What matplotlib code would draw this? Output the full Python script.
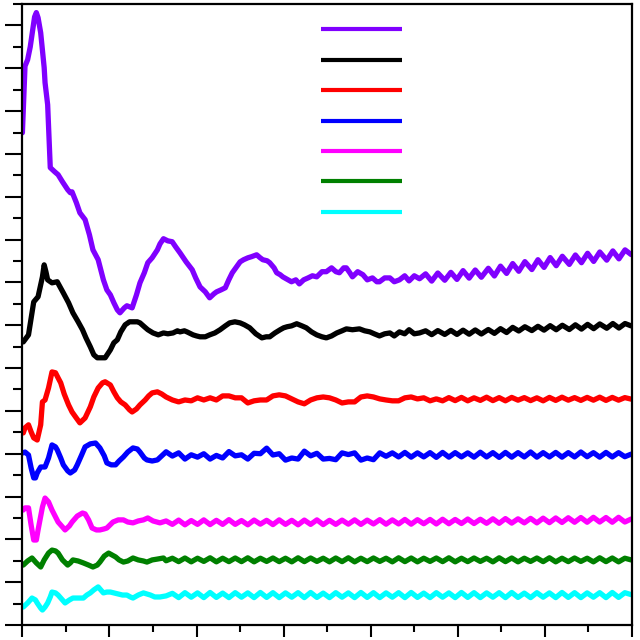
import matplotlib
matplotlib.use("Agg")
import matplotlib.pyplot as plt
from matplotlib.ticker import MultipleLocator, NullFormatter
import numpy as np

# series colours, top curve first
colors = ['#8000ff', '#000000', '#ff0000', '#0000ff', '#ff00ff', '#008000', '#00ffff']

# x positions shared by the wiggly tails
upper_tail_x = [4.63, 4.70, 4.77, 4.85, 4.92, 4.99, 5.06, 5.13, 5.20, 5.27, 5.35, 5.42, 5.49, 5.56, 5.63, 5.70, 5.77,
                5.85, 5.92, 5.99, 6.06, 6.13, 6.20, 6.28, 6.35, 6.42, 6.49, 6.56, 6.63, 6.71, 6.78, 6.85, 6.92, 6.99]
lower_tail_x = np.linspace(1.65, 6.99, 75)

purple_x = [0.00, 0.03, 0.06, 0.09, 0.11, 0.14, 0.16, 0.18, 0.21, 0.23, 0.25, 0.26, 0.29, 0.32, 0.37, 0.41, 0.46, 0.52,
            0.55, 0.57, 0.62, 0.66, 0.72, 0.77, 0.81, 0.87, 0.93, 0.97, 1.01, 1.05, 1.09, 1.12, 1.17, 1.20, 1.26, 1.31,
            1.35, 1.40, 1.44, 1.49, 1.55, 1.58, 1.62, 1.67, 1.72, 1.76, 1.81, 1.88, 1.95, 1.99, 2.04, 2.10, 2.15, 2.20,
            2.23, 2.28, 2.33, 2.37, 2.41, 2.45, 2.50, 2.54, 2.59, 2.63, 2.69, 2.73, 2.76, 2.81, 2.84, 2.89, 2.92, 2.96,
            2.99, 3.05, 3.09, 3.14, 3.18, 3.23, 3.28, 3.33, 3.38, 3.44, 3.49, 3.55, 3.60, 3.64, 3.69, 3.72, 3.76, 3.79,
            3.85, 3.91, 3.96, 4.02, 4.07, 4.10, 4.16, 4.22, 4.27, 4.33, 4.39, 4.44, 4.50, 4.56]
purple_y = [22.99, 26.10, 26.40, 27.00, 27.57, 28.40, 28.60, 28.36, 27.66, 26.87, 26.03, 25.33, 24.30, 21.36, 21.17,
            21.03, 20.70, 20.33, 20.19, 20.23, 19.72, 19.25, 18.93, 18.22, 17.52, 17.06, 16.12, 15.65, 15.42, 15.05,
            14.72, 14.58, 14.81, 14.91, 14.81, 15.42, 15.98, 16.45, 16.92, 17.15, 17.52, 17.80, 18.04, 17.94, 17.90,
            17.66, 17.38, 16.96, 16.59, 16.21, 15.79, 15.56, 15.28, 15.47, 15.56, 15.65, 15.75, 16.12, 16.45, 16.68,
            16.96, 17.06, 17.15, 17.20, 17.29, 17.15, 17.06, 17.01, 16.92, 16.68, 16.45, 16.36, 16.26, 16.12, 16.03,
            16.12, 15.93, 16.12, 16.21, 16.31, 16.26, 16.50, 16.50, 16.68, 16.50, 16.45, 16.68, 16.68, 16.45, 16.26,
            16.50, 16.36, 16.12, 16.21, 16.03, 16.03, 16.21, 16.21, 16.03, 16.12, 16.31, 16.07, 16.31, 16.17]
purple_tail = [16.40, 16.06, 16.44, 16.10, 16.47, 16.14, 16.55, 16.20, 16.58, 16.24, 16.66, 16.30, 16.76, 16.42,
               16.88, 16.52, 16.97, 16.60, 17.06, 16.70, 17.16, 16.78, 17.22, 16.84, 17.28, 16.92, 17.36, 16.98,
               17.42, 17.04, 17.47, 17.10, 17.52, 17.30]

black_x = [0.01, 0.07, 0.13, 0.18, 0.23, 0.25, 0.27, 0.29, 0.34, 0.40, 0.47, 0.53, 0.58, 0.64, 0.69, 0.73, 0.78, 0.82,
           0.86, 0.90, 0.95, 1.01, 1.05, 1.09, 1.13, 1.18, 1.23, 1.27, 1.32, 1.35, 1.40, 1.44, 1.50, 1.56, 1.62, 1.67,
           1.73, 1.78, 1.81, 1.86, 1.89, 1.96, 2.00, 2.04, 2.10, 2.15, 2.21, 2.27, 2.33, 2.38, 2.44, 2.50, 2.55, 2.61,
           2.68, 2.75, 2.80, 2.84, 2.90, 2.96, 3.00, 3.04, 3.09, 3.15, 3.21, 3.26, 3.32, 3.38, 3.44, 3.49, 3.55, 3.61,
           3.67, 3.72, 3.79, 3.87, 3.93, 3.99, 4.04, 4.10, 4.16, 4.22, 4.27, 4.33, 4.39, 4.44, 4.50, 4.56]
black_y = [13.22, 13.55, 15.09, 15.33, 16.26, 16.82, 16.50, 16.12, 15.98, 16.03, 15.51, 15.05, 14.58, 14.16, 13.79,
           13.41, 12.99, 12.62, 12.48, 12.48, 12.48, 12.85, 13.18, 13.32, 13.69, 14.02, 14.16, 14.16, 14.16, 14.11,
           13.93, 13.79, 13.64, 13.55, 13.64, 13.60, 13.64, 13.74, 13.69, 13.74, 13.69, 13.55, 13.50, 13.46, 13.46,
           13.55, 13.64, 13.79, 13.97, 14.11, 14.16, 14.11, 14.02, 13.88, 13.60, 13.41, 13.46, 13.46, 13.64, 13.79,
           13.88, 13.93, 13.97, 14.07, 13.97, 13.88, 13.69, 13.55, 13.46, 13.41, 13.50, 13.64, 13.74, 13.83, 13.79,
           13.83, 13.74, 13.69, 13.60, 13.50, 13.60, 13.64, 13.50, 13.69, 13.60, 13.79, 13.60, 13.64]
black_tail = [13.74, 13.56, 13.75, 13.57, 13.76, 13.57, 13.77, 13.58, 13.78, 13.59, 13.80, 13.62, 13.84, 13.66,
              13.90, 13.73, 13.93, 13.75, 13.95, 13.77, 13.98, 13.79, 14.00, 13.80, 14.02, 13.82, 14.04, 13.84,
              14.06, 13.86, 14.08, 13.87, 14.08, 13.97]

red_x = [0.01, 0.03, 0.07, 0.10, 0.13, 0.17, 0.21, 0.23, 0.26, 0.30, 0.34, 0.38, 0.41, 0.44, 0.48, 0.53, 0.57, 0.61,
         0.66, 0.72, 0.78, 0.82, 0.87, 0.92, 0.95, 1.01, 1.05, 1.09, 1.13, 1.18, 1.23, 1.26, 1.31, 1.35, 1.41, 1.45,
         1.49, 1.55, 1.60]
red_y = [8.97, 9.21, 9.35, 9.02, 8.74, 8.64, 9.35, 10.42, 10.51, 11.07, 11.82, 11.78, 11.54, 11.31, 10.79, 10.28,
         9.95, 9.72, 9.44, 9.67, 10.19, 10.65, 11.07, 11.31, 11.36, 11.21, 10.89, 10.61, 10.42, 10.28, 10.05, 9.95,
         10.09, 10.28, 10.51, 10.70, 10.84, 10.89, 10.79]
red_tail = [10.65, 10.51, 10.42, 10.51, 10.47, 10.61, 10.51, 10.61, 10.51, 10.70,
            10.70, 10.61, 10.61, 10.37, 10.47, 10.51, 10.51, 10.70, 10.75, 10.70,
            10.56, 10.42, 10.33, 10.51, 10.61, 10.65, 10.61, 10.51, 10.37, 10.42,
            10.42, 10.65, 10.70, 10.65, 10.56, 10.51, 10.47, 10.47, 10.61, 10.65,
            10.56, 10.61, 10.47, 10.56, 10.47, 10.62, 10.48, 10.63, 10.47, 10.61,
            10.49, 10.64, 10.48, 10.62, 10.47, 10.63, 10.50, 10.62, 10.48, 10.61,
            10.47, 10.63, 10.49, 10.64, 10.50, 10.62, 10.49, 10.63, 10.50, 10.64,
            10.49, 10.63, 10.50, 10.62, 10.55]

blue_x = [0.01, 0.03, 0.07, 0.10, 0.13, 0.15, 0.17, 0.21, 0.26, 0.30, 0.34, 0.38, 0.40, 0.44, 0.47, 0.52, 0.55, 0.60,
          0.63, 0.68, 0.72, 0.78, 0.84, 0.89, 0.94, 0.97, 1.02, 1.07, 1.11, 1.16, 1.21, 1.27, 1.32, 1.35, 1.40, 1.43,
          1.49, 1.55, 1.60]
blue_y = [8.04, 8.08, 7.94, 7.34, 6.87, 6.87, 7.10, 7.38, 7.38, 7.80, 8.41, 8.32, 8.18, 7.80, 7.48, 7.20, 7.10, 7.24,
          7.48, 7.94, 8.32, 8.46, 8.50, 8.27, 7.90, 7.57, 7.48, 7.48, 7.66, 7.85, 8.08, 8.27, 8.22, 8.08, 7.80, 7.71,
          7.66, 7.71, 7.90]
blue_tail = [8.09, 7.89, 8.04, 7.75, 7.95, 7.84, 8.00, 7.75, 7.92, 7.80,
             8.10, 7.90, 7.95, 7.75, 8.02, 8.00, 8.26, 7.94, 8.00, 7.70,
             7.80, 7.75, 8.12, 7.90, 8.02, 7.75, 7.78, 7.72, 8.04, 7.96,
             8.04, 7.70, 7.80, 7.72, 8.04, 7.88, 8.04, 7.85, 8.06, 7.84,
             8.04, 7.85, 8.05, 7.83, 8.06, 7.84, 8.05, 7.85, 8.04, 7.84,
             8.07, 7.85, 8.05, 7.83, 8.06, 7.84, 8.05, 7.85, 8.08, 7.84,
             8.05, 7.85, 8.06, 7.84, 8.05, 7.85, 8.08, 7.86, 8.05, 7.84,
             8.06, 7.85, 8.05, 7.86, 7.98]

magenta_x = [0.01, 0.03, 0.07, 0.10, 0.13, 0.16, 0.18, 0.23, 0.26, 0.30, 0.34, 0.41, 0.46, 0.49, 0.54, 0.57, 0.63,
             0.69, 0.72, 0.76, 0.80, 0.85, 0.89, 0.94, 0.97, 1.04, 1.10, 1.16, 1.21, 1.27, 1.33, 1.39, 1.44, 1.50, 1.58]
magenta_y = [5.37, 5.47, 5.47, 4.67, 3.97, 3.97, 4.44, 5.51, 5.93, 5.75, 5.37, 4.81, 4.58, 4.44, 4.63, 4.81, 5.09,
             5.23, 5.19, 4.91, 4.53, 4.44, 4.44, 4.49, 4.53, 4.81, 4.91, 4.91, 4.81, 4.77, 4.86, 4.91, 5.00, 4.86, 4.77]
magenta_tail = [4.86, 4.70, 4.90, 4.68, 4.88, 4.70, 4.91, 4.69, 4.89, 4.70,
                4.92, 4.70, 4.88, 4.68, 4.90, 4.71, 4.89, 4.69, 4.91, 4.70,
                4.89, 4.68, 4.90, 4.70, 4.91, 4.69, 4.89, 4.70, 4.90, 4.71,
                4.91, 4.70, 4.90, 4.72, 4.92, 4.71, 4.91, 4.72, 4.93, 4.71,
                4.92, 4.73, 4.93, 4.72, 4.94, 4.73, 4.93, 4.74, 4.95, 4.74,
                4.94, 4.75, 4.96, 4.75, 4.97, 4.76, 4.96, 4.77, 4.98, 4.77,
                4.99, 4.78, 5.00, 4.79, 5.01, 4.80, 5.02, 4.80, 5.03, 4.81,
                5.02, 4.80, 5.03, 4.81, 4.95]

green_x = [0.01, 0.06, 0.11, 0.16, 0.21, 0.25, 0.30, 0.34, 0.38, 0.41, 0.46, 0.52, 0.55, 0.58, 0.64, 0.70, 0.76, 0.81,
           0.86, 0.89, 0.94, 0.99, 1.03, 1.07, 1.11, 1.16, 1.21, 1.27, 1.33, 1.39, 1.43, 1.49, 1.55, 1.62]
green_y = [2.80, 2.99, 3.13, 2.90, 2.71, 3.04, 3.36, 3.50, 3.46, 3.36, 3.04, 2.80, 2.90, 3.04, 2.99, 2.90, 2.80, 2.71,
           2.80, 2.94, 3.22, 3.36, 3.27, 3.18, 3.04, 2.94, 2.99, 3.13, 3.04, 2.99, 2.94, 3.04, 3.08, 3.13]
green_tail = [3.00, 3.12, 2.96, 3.13, 2.95, 3.12, 2.97, 3.14, 2.95, 3.12,
              2.96, 3.13, 2.96, 3.14, 2.95, 3.12, 2.97, 3.13, 2.96, 3.12,
              2.95, 3.14, 2.96, 3.13, 2.97, 3.12, 2.95, 3.13, 2.96, 3.14,
              2.95, 3.12, 2.96, 3.13, 2.97, 3.12, 2.95, 3.14, 2.96, 3.13,
              2.95, 3.12, 2.97, 3.13, 2.96, 3.14, 2.95, 3.12, 2.96, 3.13,
              2.97, 3.12, 2.95, 3.14, 2.96, 3.13, 2.95, 3.12, 2.97, 3.13,
              2.96, 3.14, 2.95, 3.12, 2.96, 3.13, 2.97, 3.12, 2.95, 3.14,
              2.96, 3.13, 2.95, 3.12, 3.04]

cyan_x = [0.01, 0.06, 0.11, 0.15, 0.17, 0.21, 0.23, 0.26, 0.29, 0.32, 0.34, 0.38, 0.41, 0.46, 0.49, 0.54, 0.58, 0.64,
          0.70, 0.74, 0.78, 0.82, 0.87, 0.90, 0.93, 0.97, 1.01, 1.05, 1.10, 1.15, 1.20, 1.24, 1.27, 1.33, 1.39, 1.47,
          1.52, 1.58]
cyan_y = [0.84, 1.03, 1.26, 1.17, 1.03, 0.79, 0.70, 0.84, 1.03, 1.31, 1.54, 1.50, 1.40, 1.17, 1.03, 1.17, 1.26, 1.26,
          1.26, 1.40, 1.50, 1.64, 1.78, 1.64, 1.50, 1.54, 1.54, 1.50, 1.45, 1.40, 1.40, 1.31, 1.26, 1.40, 1.50, 1.40,
          1.31, 1.31]
cyan_tail = [1.36, 1.48, 1.28, 1.51, 1.30, 1.50, 1.28, 1.52, 1.29, 1.49,
             1.28, 1.51, 1.30, 1.50, 1.28, 1.52, 1.29, 1.51, 1.28, 1.50,
             1.30, 1.51, 1.28, 1.52, 1.29, 1.49, 1.28, 1.51, 1.30, 1.50,
             1.28, 1.52, 1.29, 1.51, 1.28, 1.50, 1.30, 1.51, 1.28, 1.52,
             1.29, 1.49, 1.28, 1.51, 1.30, 1.50, 1.28, 1.52, 1.29, 1.51,
             1.28, 1.50, 1.30, 1.51, 1.28, 1.52, 1.29, 1.49, 1.28, 1.51,
             1.30, 1.50, 1.28, 1.52, 1.29, 1.51, 1.28, 1.50, 1.30, 1.51,
             1.28, 1.52, 1.29, 1.51, 1.42]

series = [
    (purple_x + upper_tail_x, purple_y + purple_tail),
    (black_x + upper_tail_x, black_y + black_tail),
    (red_x + list(lower_tail_x), red_y + red_tail),
    (blue_x + list(lower_tail_x), blue_y + blue_tail),
    (magenta_x + list(lower_tail_x), magenta_y + magenta_tail),
    (green_x + list(lower_tail_x), green_y + green_tail),
    (cyan_x + list(lower_tail_x), cyan_y + cyan_tail),
]

fig = plt.figure(figsize=(6.4, 6.4), dpi=100)
ax = fig.add_axes([0.035, 0.0234, 0.9525, 0.9703])

lines = []
for (xs, ys), c in zip(series, colors):
    ln, = ax.plot(xs, ys, color=c, lw=3.8, solid_capstyle='round', solid_joinstyle='round')
    lines.append(ln)

ax.set_xlim(0, 7)
ax.set_ylim(0, 29)

ax.xaxis.set_major_locator(MultipleLocator(1))
ax.xaxis.set_minor_locator(MultipleLocator(0.5))
ax.yaxis.set_major_locator(MultipleLocator(2))
ax.yaxis.set_minor_locator(MultipleLocator(1))
ax.xaxis.set_major_formatter(NullFormatter())
ax.yaxis.set_major_formatter(NullFormatter())

ax.tick_params(axis='y', which='major', direction='out', length=12, width=1.5, right=False)
ax.tick_params(axis='y', which='minor', direction='out', length=6.5, width=1.5, right=False)
ax.tick_params(axis='x', which='major', direction='out', length=8.5, width=1.5, top=False)
ax.tick_params(axis='x', which='minor', direction='out', length=5, width=1.5, top=False)
for sp in ax.spines.values():
    sp.set_linewidth(1.6)

leg = ax.legend(lines, [' '] * 7, loc='upper left', bbox_to_anchor=(0.49, 0.969),
                frameon=False, fontsize=10, handlelength=5.8, labelspacing=1.18,
                borderpad=0, borderaxespad=0, handletextpad=0.2)
for l in leg.get_lines():
    l.set_linewidth(3.0)
    l.set_solid_capstyle('butt')

fig.savefig('out.png', dpi=100)
